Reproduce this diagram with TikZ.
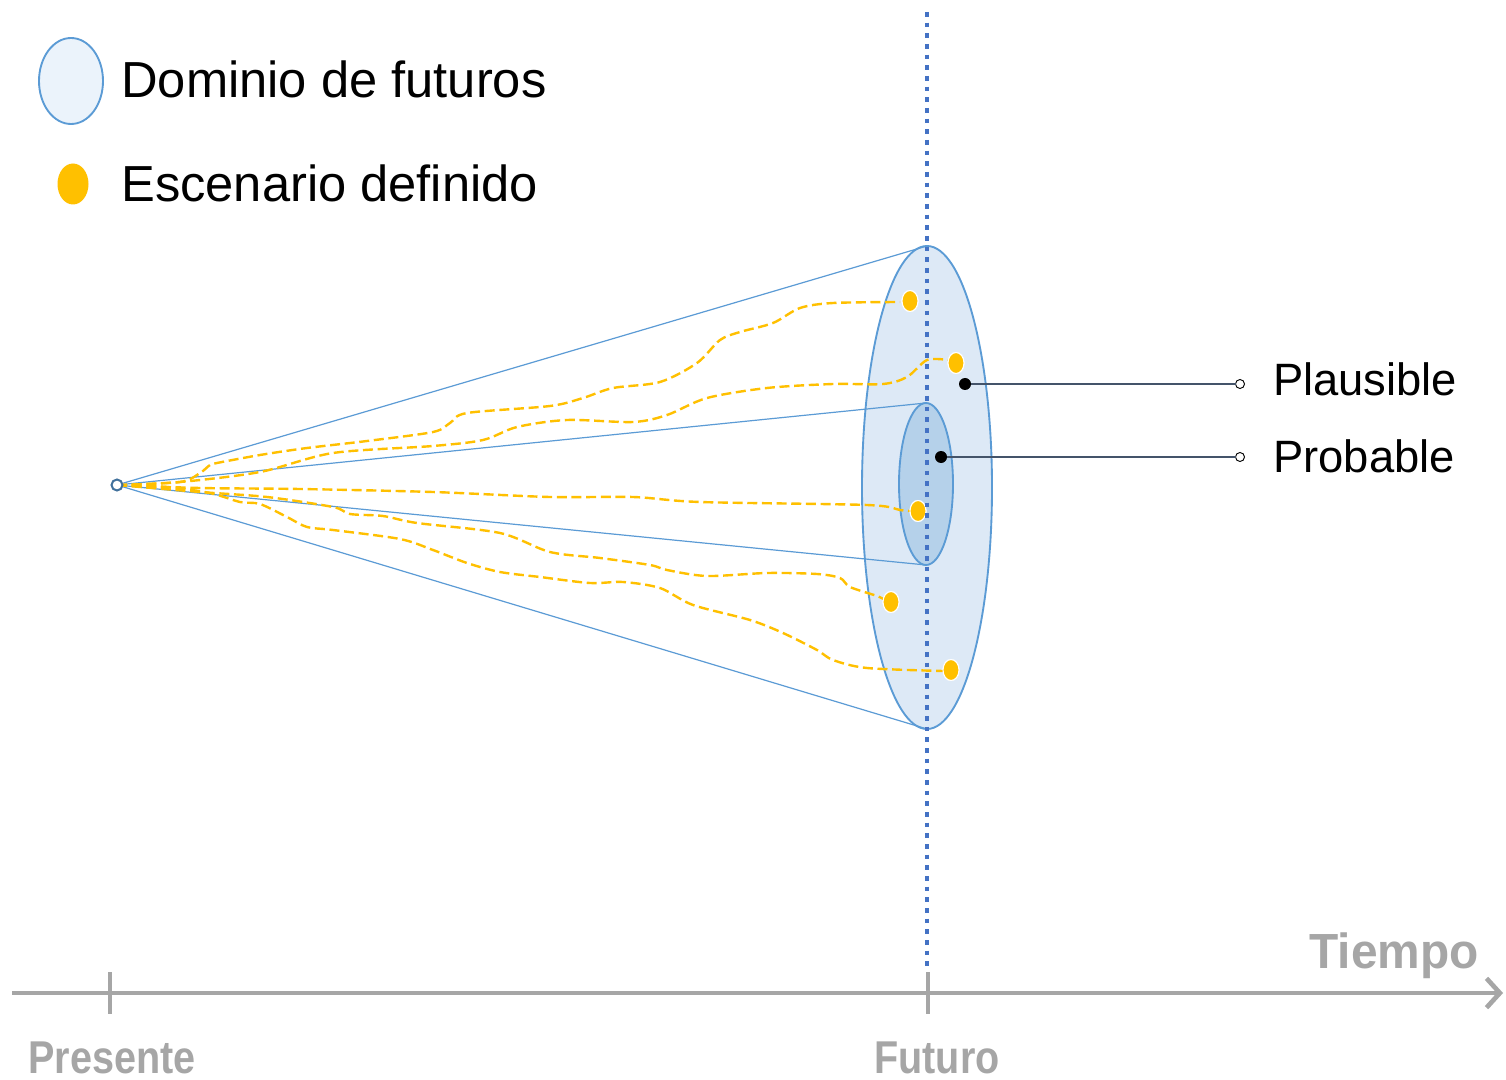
\documentclass[tikz,border=0pt]{standalone}
\usepackage{fontspec}
\setmainfont{Liberation Sans}
\newfontfamily\axisfont[FakeStretch=0.86]{Liberation Sans}
\newfontfamily\timefont[FakeStretch=0.97]{Liberation Sans}
\usetikzlibrary{shapes.geometric,arrows.meta}
\definecolor{cblue}{HTML}{5B9BD5}
\definecolor{cdot}{HTML}{4472C4}
\definecolor{corange}{HTML}{FFC000}
\definecolor{couter}{HTML}{DDE9F6}
\definecolor{cinner}{HTML}{B5D1EA}
\definecolor{clegend}{HTML}{EBF3FB}
\definecolor{cgray}{HTML}{A6A6A6}
\definecolor{cslate}{HTML}{44546A}
\definecolor{corig}{HTML}{41719C}
\begin{document}
\begin{tikzpicture}[x=0.75pt,y=-0.75pt,
  domshape/.style={ellipse,draw=cblue,line width=1.4pt,inner sep=0,outer sep=0},
  cone/.style={draw=cblue,line width=0.9pt},
  scen/.style={ellipse,fill=corange,draw=white,line width=0.8pt,minimum width=16*0.75pt,minimum height=21*0.75pt,inner sep=0,outer sep=0},
  scenpath/.style={draw=corange,line width=1.8pt,dash pattern=on 7.5pt off 3.5pt},
  dotline/.style={draw=cdot,line width=3.4pt,dash pattern=on 3.6pt off 4.4pt},
  leader/.style={draw=cslate,line width=0.8pt},
  blackdot/.style={circle,fill=black,minimum size=12*0.75pt,inner sep=0,outer sep=0},
  opendot/.style={circle,draw=black,fill=white,line width=0.7pt,minimum size=9*0.75pt,inner sep=0,outer sep=0},
  axisline/.style={draw=cgray,line width=3.5pt},
  tickmark/.style={draw=cgray,line width=2.5pt},
  axislabel/.style={text=cgray,inner sep=0,font=\axisfont\bfseries\fontsize{34.5}{40}\selectfont},
  bigtext/.style={inner sep=0,anchor=base west,font=\fontsize{38}{44}\selectfont},
  midtext/.style={inner sep=0,anchor=base west,font=\fontsize{34}{40}\selectfont}]
\useasboundingbox[fill=white] (0,0) rectangle (1506,1080);

% legend
\node[domshape,fill=clegend,minimum width=64*0.75pt,minimum height=86*0.75pt] (legdom) at (71,81) {};
\node[scen,draw=none,minimum width=31*0.75pt,minimum height=41*0.75pt] (legscen) at (73,184) {};
\node[bigtext] (legdomtxt) at (121,98) {Dominio de futuros};
\node[bigtext] (legscentxt) at (121,202) {Escenario definido};

% domains
\node[domshape,fill=couter,minimum width=130*0.75pt,minimum height=483*0.75pt] (outer) at (927,487.5) {};
\node[domshape,fill=cinner,minimum width=54*0.75pt,minimum height=162*0.75pt] (inner) at (926,484) {};

% origin
\coordinate (o) at (117,485);

% cone lines
\draw[cone] (o) -- (outer.north);
\draw[cone] (o) -- (outer.south);
\draw[cone] (o) -- (inner.north);
\draw[cone] (o) -- (inner.south);

% scenarios
\node[scen] (s1) at (910,301) {};
\node[scen] (s2) at (956,363) {};
\node[scen] (s3) at (918,511) {};
\node[scen] (s4) at (891,602) {};
\node[scen] (s5) at (951,670) {};

\draw[scenpath] plot[smooth,tension=0.5] coordinates {(o) (180,482) (200,473) (210,465) (217,463) (260,455) (307,448) (367,441) (433,432) (450,423) (467,413) (550,406) (583,398) (613,388) (660,382) (697,363) (720,340) (740,332) (773,323) (800,308) (833,303) (900,302)};
\draw[scenpath] plot[smooth,tension=0.5] coordinates {(o) (180,482) (260,472) (333,453) (433,446) (483,440) (517,427) (567,420) (633,422) (667,415) (707,398) (767,388) (833,384) (883,384) (907,377) (927,360) (948,360)};
\draw[scenpath] plot[smooth,tension=0.5] coordinates {(o) (200,488) (300,489) (433,492) (550,497) (633,497) (700,502) (867,505) (900,510) (910,511)};
\draw[scenpath] plot[smooth,tension=0.5] coordinates {(o) (200,492) (267,497) (333,507) (350,514) (383,516) (417,523) (500,533) (550,552) (600,558) (650,565) (667,570) (707,576) (767,573) (817,574) (840,578) (850,587) (877,596) (885,600)};
\draw[scenpath] plot[smooth,tension=0.5] coordinates {(o) (167,487) (210,493) (240,502) (260,504) (287,517) (307,527) (333,530) (400,539) (433,550) (467,563) (500,572) (540,577) (590,583) (623,582) (660,588) (693,605) (750,620) (783,633) (817,650) (833,660) (867,668) (943,671)};

% redraw scenario dots on top
\foreach \n in {s1,s2,s3,s4,s5} {\node[scen] at (\n.center) {};}

% origin marker
\node[circle,draw=corig,fill=white,line width=1.5pt,minimum size=11*0.75pt,inner sep=0] (orig) at (o) {};

% vertical dotted line
\coordinate (vtop) at (927,12);
\coordinate (vbot) at (927,970);
\draw[dotline] (vtop) -- (vbot);

% leaders
\node[blackdot] (pl) at (965,384) {};
\node[opendot] (plo) at (1240,384) {};
\node[blackdot] (pr) at (941,457) {};
\node[opendot] (pro) at (1240,457) {};
\draw[leader] (pl) -- (plo);
\draw[leader] (pr) -- (pro);
\node[midtext] (pltxt) at (1273,396) {Plausible};
\node[midtext] (prtxt) at (1273,472) {Probable};

% time axis
\coordinate (axL) at (12,993);
\coordinate (axR) at (1503,993);
\draw[axisline,-{Straight Barb[length=10pt,width=22pt]}] (axL) -- (axR);
\draw[tickmark] (110,972) -- (110,1014);
\draw[tickmark] (928,972) -- (928,1014);
\node[axislabel,anchor=base] (pres) at (112,1073) {Presente};
\node[axislabel,anchor=base] (fut) at (937,1073) {Futuro};
\node[axislabel,anchor=base east,font=\timefont\bfseries\fontsize{37}{42}\selectfont] (tiempo) at (1479,968) {Tiempo};
\end{tikzpicture}
\end{document}
